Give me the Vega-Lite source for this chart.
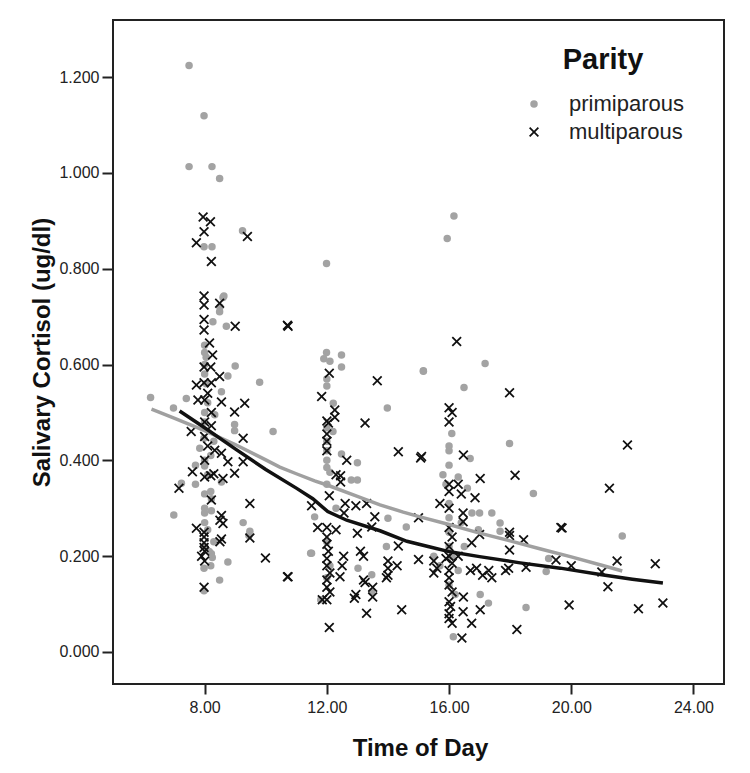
{
  "$schema": "https://vega.github.io/schema/vega-lite/v6.json",
  "autosize": "none",
  "width": 611,
  "height": 664,
  "padding": {"left": 113, "top": 20, "right": 26, "bottom": 89},
  "background": "white",
  "config": {
    "view": {"stroke": "#222222", "strokeWidth": 2},
    "font": "Liberation Sans",
    "axis": {
      "labelFont": "Liberation Sans",
      "labelFontSize": 16,
      "labelColor": "#222222",
      "titleFont": "Liberation Sans",
      "titleFontSize": 24,
      "titleFontWeight": "bold",
      "titleColor": "#111111",
      "tickColor": "#222222",
      "tickWidth": 2,
      "grid": false,
      "domain": false
    },
    "legend": {
      "orient": "none",
      "legendX": 410,
      "legendY": 26,
      "padding": 0,
      "titleFont": "Liberation Sans",
      "titleFontSize": 29,
      "titleFontWeight": "bold",
      "titleColor": "#111111",
      "titleAnchor": "middle",
      "titlePadding": 18,
      "labelFont": "Liberation Sans",
      "labelFontSize": 22,
      "labelColor": "#222222",
      "labelOffset": 24,
      "symbolSize": 64,
      "rowPadding": 6
    }
  },
  "datasets": {
    "points": [
      {"time": 7.49, "cortisol": 1.224, "parity": "primiparous"},
      {"time": 7.98, "cortisol": 1.119, "parity": "primiparous"},
      {"time": 7.49, "cortisol": 1.013, "parity": "primiparous"},
      {"time": 8.24, "cortisol": 1.013, "parity": "primiparous"},
      {"time": 8.49, "cortisol": 0.988, "parity": "primiparous"},
      {"time": 9.24, "cortisol": 0.879, "parity": "primiparous"},
      {"time": 7.98, "cortisol": 0.846, "parity": "primiparous"},
      {"time": 8.24, "cortisol": 0.846, "parity": "primiparous"},
      {"time": 8.63, "cortisol": 0.743, "parity": "primiparous"},
      {"time": 8.6, "cortisol": 0.74, "parity": "primiparous"},
      {"time": 8.5, "cortisol": 0.72, "parity": "primiparous"},
      {"time": 8.49, "cortisol": 0.71, "parity": "primiparous"},
      {"time": 8.27, "cortisol": 0.689, "parity": "primiparous"},
      {"time": 8.71, "cortisol": 0.68, "parity": "primiparous"},
      {"time": 8.0, "cortisol": 0.64, "parity": "primiparous"},
      {"time": 8.0, "cortisol": 0.625, "parity": "primiparous"},
      {"time": 8.05, "cortisol": 0.615, "parity": "primiparous"},
      {"time": 9.0, "cortisol": 0.597, "parity": "primiparous"},
      {"time": 8.0, "cortisol": 0.6, "parity": "primiparous"},
      {"time": 8.0, "cortisol": 0.58, "parity": "primiparous"},
      {"time": 8.76, "cortisol": 0.576, "parity": "primiparous"},
      {"time": 9.8, "cortisol": 0.563, "parity": "primiparous"},
      {"time": 8.05, "cortisol": 0.56, "parity": "primiparous"},
      {"time": 8.55, "cortisol": 0.543, "parity": "primiparous"},
      {"time": 6.23, "cortisol": 0.531, "parity": "primiparous"},
      {"time": 7.4, "cortisol": 0.529, "parity": "primiparous"},
      {"time": 8.1, "cortisol": 0.52, "parity": "primiparous"},
      {"time": 6.98, "cortisol": 0.509, "parity": "primiparous"},
      {"time": 8.0, "cortisol": 0.5, "parity": "primiparous"},
      {"time": 8.33, "cortisol": 0.495, "parity": "primiparous"},
      {"time": 8.0, "cortisol": 0.48, "parity": "primiparous"},
      {"time": 8.98, "cortisol": 0.475, "parity": "primiparous"},
      {"time": 8.98, "cortisol": 0.462, "parity": "primiparous"},
      {"time": 10.24, "cortisol": 0.46, "parity": "primiparous"},
      {"time": 7.98, "cortisol": 0.446, "parity": "primiparous"},
      {"time": 8.3, "cortisol": 0.44, "parity": "primiparous"},
      {"time": 7.84, "cortisol": 0.425, "parity": "primiparous"},
      {"time": 8.2, "cortisol": 0.41, "parity": "primiparous"},
      {"time": 8.0, "cortisol": 0.4, "parity": "primiparous"},
      {"time": 7.7, "cortisol": 0.39, "parity": "primiparous"},
      {"time": 8.0, "cortisol": 0.388, "parity": "primiparous"},
      {"time": 8.1, "cortisol": 0.37, "parity": "primiparous"},
      {"time": 8.55, "cortisol": 0.355, "parity": "primiparous"},
      {"time": 7.24, "cortisol": 0.352, "parity": "primiparous"},
      {"time": 7.7, "cortisol": 0.35, "parity": "primiparous"},
      {"time": 8.2, "cortisol": 0.335, "parity": "primiparous"},
      {"time": 8.0, "cortisol": 0.33, "parity": "primiparous"},
      {"time": 8.22, "cortisol": 0.32, "parity": "primiparous"},
      {"time": 8.0, "cortisol": 0.3, "parity": "primiparous"},
      {"time": 8.22, "cortisol": 0.295, "parity": "primiparous"},
      {"time": 8.0, "cortisol": 0.29, "parity": "primiparous"},
      {"time": 6.99, "cortisol": 0.286, "parity": "primiparous"},
      {"time": 8.0, "cortisol": 0.27, "parity": "primiparous"},
      {"time": 9.26, "cortisol": 0.27, "parity": "primiparous"},
      {"time": 8.1, "cortisol": 0.255, "parity": "primiparous"},
      {"time": 9.48, "cortisol": 0.252, "parity": "primiparous"},
      {"time": 9.45, "cortisol": 0.243, "parity": "primiparous"},
      {"time": 8.3, "cortisol": 0.23, "parity": "primiparous"},
      {"time": 8.0, "cortisol": 0.22, "parity": "primiparous"},
      {"time": 8.15, "cortisol": 0.21, "parity": "primiparous"},
      {"time": 11.47, "cortisol": 0.206, "parity": "primiparous"},
      {"time": 8.22, "cortisol": 0.205, "parity": "primiparous"},
      {"time": 8.25, "cortisol": 0.197, "parity": "primiparous"},
      {"time": 8.76, "cortisol": 0.188, "parity": "primiparous"},
      {"time": 8.2, "cortisol": 0.18, "parity": "primiparous"},
      {"time": 7.98, "cortisol": 0.175, "parity": "primiparous"},
      {"time": 8.49, "cortisol": 0.15, "parity": "primiparous"},
      {"time": 7.98, "cortisol": 0.128, "parity": "primiparous"},
      {"time": 11.99, "cortisol": 0.811, "parity": "primiparous"},
      {"time": 11.99, "cortisol": 0.625, "parity": "primiparous"},
      {"time": 12.48, "cortisol": 0.62, "parity": "primiparous"},
      {"time": 11.9, "cortisol": 0.612, "parity": "primiparous"},
      {"time": 12.1, "cortisol": 0.607, "parity": "primiparous"},
      {"time": 12.48, "cortisol": 0.595, "parity": "primiparous"},
      {"time": 15.16, "cortisol": 0.587, "parity": "primiparous"},
      {"time": 12.0, "cortisol": 0.57, "parity": "primiparous"},
      {"time": 12.0, "cortisol": 0.555, "parity": "primiparous"},
      {"time": 12.21, "cortisol": 0.519, "parity": "primiparous"},
      {"time": 13.98, "cortisol": 0.509, "parity": "primiparous"},
      {"time": 12.0, "cortisol": 0.468, "parity": "primiparous"},
      {"time": 12.2, "cortisol": 0.46, "parity": "primiparous"},
      {"time": 12.0, "cortisol": 0.44, "parity": "primiparous"},
      {"time": 12.0, "cortisol": 0.42, "parity": "primiparous"},
      {"time": 12.48, "cortisol": 0.413, "parity": "primiparous"},
      {"time": 12.0, "cortisol": 0.4, "parity": "primiparous"},
      {"time": 13.0, "cortisol": 0.395, "parity": "primiparous"},
      {"time": 12.0, "cortisol": 0.385, "parity": "primiparous"},
      {"time": 12.1, "cortisol": 0.375, "parity": "primiparous"},
      {"time": 12.8, "cortisol": 0.359, "parity": "primiparous"},
      {"time": 13.0, "cortisol": 0.359, "parity": "primiparous"},
      {"time": 12.0, "cortisol": 0.35, "parity": "primiparous"},
      {"time": 12.3, "cortisol": 0.3, "parity": "primiparous"},
      {"time": 11.6, "cortisol": 0.282, "parity": "primiparous"},
      {"time": 14.0, "cortisol": 0.279, "parity": "primiparous"},
      {"time": 14.6, "cortisol": 0.261, "parity": "primiparous"},
      {"time": 12.0, "cortisol": 0.23, "parity": "primiparous"},
      {"time": 13.95, "cortisol": 0.22, "parity": "primiparous"},
      {"time": 11.5, "cortisol": 0.206, "parity": "primiparous"},
      {"time": 12.1, "cortisol": 0.18, "parity": "primiparous"},
      {"time": 13.02, "cortisol": 0.175, "parity": "primiparous"},
      {"time": 13.47, "cortisol": 0.161, "parity": "primiparous"},
      {"time": 12.0, "cortisol": 0.155, "parity": "primiparous"},
      {"time": 13.47, "cortisol": 0.125, "parity": "primiparous"},
      {"time": 11.8, "cortisol": 0.109, "parity": "primiparous"},
      {"time": 16.16, "cortisol": 0.91, "parity": "primiparous"},
      {"time": 15.94, "cortisol": 0.863, "parity": "primiparous"},
      {"time": 15.16, "cortisol": 0.586, "parity": "primiparous"},
      {"time": 17.18, "cortisol": 0.602, "parity": "primiparous"},
      {"time": 16.49, "cortisol": 0.552, "parity": "primiparous"},
      {"time": 16.09, "cortisol": 0.456, "parity": "primiparous"},
      {"time": 17.98, "cortisol": 0.435, "parity": "primiparous"},
      {"time": 16.0, "cortisol": 0.43, "parity": "primiparous"},
      {"time": 16.0, "cortisol": 0.42, "parity": "primiparous"},
      {"time": 16.69, "cortisol": 0.404, "parity": "primiparous"},
      {"time": 16.0, "cortisol": 0.39, "parity": "primiparous"},
      {"time": 15.8, "cortisol": 0.37, "parity": "primiparous"},
      {"time": 16.3, "cortisol": 0.365, "parity": "primiparous"},
      {"time": 15.9, "cortisol": 0.35, "parity": "primiparous"},
      {"time": 16.6, "cortisol": 0.342, "parity": "primiparous"},
      {"time": 18.76, "cortisol": 0.331, "parity": "primiparous"},
      {"time": 16.0, "cortisol": 0.31, "parity": "primiparous"},
      {"time": 16.75, "cortisol": 0.29, "parity": "primiparous"},
      {"time": 17.0, "cortisol": 0.29, "parity": "primiparous"},
      {"time": 17.4, "cortisol": 0.29, "parity": "primiparous"},
      {"time": 16.0, "cortisol": 0.28, "parity": "primiparous"},
      {"time": 16.4, "cortisol": 0.27, "parity": "primiparous"},
      {"time": 17.67, "cortisol": 0.269, "parity": "primiparous"},
      {"time": 16.96, "cortisol": 0.255, "parity": "primiparous"},
      {"time": 17.67, "cortisol": 0.252, "parity": "primiparous"},
      {"time": 16.0, "cortisol": 0.25, "parity": "primiparous"},
      {"time": 21.67, "cortisol": 0.242, "parity": "primiparous"},
      {"time": 16.0, "cortisol": 0.22, "parity": "primiparous"},
      {"time": 16.5, "cortisol": 0.22, "parity": "primiparous"},
      {"time": 15.5, "cortisol": 0.2, "parity": "primiparous"},
      {"time": 16.1, "cortisol": 0.2, "parity": "primiparous"},
      {"time": 19.26, "cortisol": 0.195, "parity": "primiparous"},
      {"time": 15.7, "cortisol": 0.18, "parity": "primiparous"},
      {"time": 16.3, "cortisol": 0.17, "parity": "primiparous"},
      {"time": 19.18, "cortisol": 0.168, "parity": "primiparous"},
      {"time": 16.0, "cortisol": 0.14, "parity": "primiparous"},
      {"time": 16.2, "cortisol": 0.12, "parity": "primiparous"},
      {"time": 17.02, "cortisol": 0.12, "parity": "primiparous"},
      {"time": 17.29, "cortisol": 0.102, "parity": "primiparous"},
      {"time": 18.52, "cortisol": 0.093, "parity": "primiparous"},
      {"time": 16.14, "cortisol": 0.032, "parity": "primiparous"},
      {"time": 7.95, "cortisol": 0.908, "parity": "multiparous"},
      {"time": 8.19, "cortisol": 0.898, "parity": "multiparous"},
      {"time": 7.98, "cortisol": 0.877, "parity": "multiparous"},
      {"time": 9.4, "cortisol": 0.867, "parity": "multiparous"},
      {"time": 7.73, "cortisol": 0.854, "parity": "multiparous"},
      {"time": 8.22, "cortisol": 0.815, "parity": "multiparous"},
      {"time": 7.98, "cortisol": 0.743, "parity": "multiparous"},
      {"time": 8.49, "cortisol": 0.728, "parity": "multiparous"},
      {"time": 7.98, "cortisol": 0.724, "parity": "multiparous"},
      {"time": 7.98, "cortisol": 0.694, "parity": "multiparous"},
      {"time": 9.0, "cortisol": 0.68, "parity": "multiparous"},
      {"time": 10.71, "cortisol": 0.682, "parity": "multiparous"},
      {"time": 7.98, "cortisol": 0.672, "parity": "multiparous"},
      {"time": 8.16, "cortisol": 0.645, "parity": "multiparous"},
      {"time": 8.26, "cortisol": 0.62, "parity": "multiparous"},
      {"time": 7.98, "cortisol": 0.595, "parity": "multiparous"},
      {"time": 8.2, "cortisol": 0.595, "parity": "multiparous"},
      {"time": 8.49, "cortisol": 0.575, "parity": "multiparous"},
      {"time": 7.98, "cortisol": 0.562, "parity": "multiparous"},
      {"time": 8.22, "cortisol": 0.562, "parity": "multiparous"},
      {"time": 7.73, "cortisol": 0.557, "parity": "multiparous"},
      {"time": 8.1, "cortisol": 0.54, "parity": "multiparous"},
      {"time": 7.78, "cortisol": 0.526, "parity": "multiparous"},
      {"time": 8.0, "cortisol": 0.526, "parity": "multiparous"},
      {"time": 8.55, "cortisol": 0.522, "parity": "multiparous"},
      {"time": 9.31, "cortisol": 0.519, "parity": "multiparous"},
      {"time": 8.98, "cortisol": 0.501, "parity": "multiparous"},
      {"time": 8.22, "cortisol": 0.5, "parity": "multiparous"},
      {"time": 8.0, "cortisol": 0.48, "parity": "multiparous"},
      {"time": 8.22, "cortisol": 0.472, "parity": "multiparous"},
      {"time": 7.56, "cortisol": 0.46, "parity": "multiparous"},
      {"time": 8.0, "cortisol": 0.45, "parity": "multiparous"},
      {"time": 9.26, "cortisol": 0.446, "parity": "multiparous"},
      {"time": 8.1, "cortisol": 0.43, "parity": "multiparous"},
      {"time": 8.33, "cortisol": 0.421, "parity": "multiparous"},
      {"time": 8.55, "cortisol": 0.415, "parity": "multiparous"},
      {"time": 8.0, "cortisol": 0.4, "parity": "multiparous"},
      {"time": 8.76, "cortisol": 0.397, "parity": "multiparous"},
      {"time": 9.26, "cortisol": 0.397, "parity": "multiparous"},
      {"time": 7.6, "cortisol": 0.376, "parity": "multiparous"},
      {"time": 8.98, "cortisol": 0.373, "parity": "multiparous"},
      {"time": 8.3, "cortisol": 0.372, "parity": "multiparous"},
      {"time": 8.2, "cortisol": 0.368, "parity": "multiparous"},
      {"time": 8.0, "cortisol": 0.365, "parity": "multiparous"},
      {"time": 8.6, "cortisol": 0.362, "parity": "multiparous"},
      {"time": 7.16, "cortisol": 0.342, "parity": "multiparous"},
      {"time": 8.22, "cortisol": 0.317, "parity": "multiparous"},
      {"time": 9.48, "cortisol": 0.31, "parity": "multiparous"},
      {"time": 8.55, "cortisol": 0.285, "parity": "multiparous"},
      {"time": 8.5, "cortisol": 0.275, "parity": "multiparous"},
      {"time": 8.6, "cortisol": 0.268, "parity": "multiparous"},
      {"time": 7.73, "cortisol": 0.258, "parity": "multiparous"},
      {"time": 7.98, "cortisol": 0.25, "parity": "multiparous"},
      {"time": 7.98, "cortisol": 0.24, "parity": "multiparous"},
      {"time": 9.48, "cortisol": 0.238, "parity": "multiparous"},
      {"time": 8.55, "cortisol": 0.236, "parity": "multiparous"},
      {"time": 8.5, "cortisol": 0.23, "parity": "multiparous"},
      {"time": 7.98, "cortisol": 0.228, "parity": "multiparous"},
      {"time": 7.98, "cortisol": 0.218, "parity": "multiparous"},
      {"time": 8.0, "cortisol": 0.21, "parity": "multiparous"},
      {"time": 7.9, "cortisol": 0.2, "parity": "multiparous"},
      {"time": 9.99, "cortisol": 0.196, "parity": "multiparous"},
      {"time": 8.0, "cortisol": 0.19, "parity": "multiparous"},
      {"time": 10.71, "cortisol": 0.157, "parity": "multiparous"},
      {"time": 7.98, "cortisol": 0.135, "parity": "multiparous"},
      {"time": 10.73, "cortisol": 0.68, "parity": "multiparous"},
      {"time": 12.08, "cortisol": 0.582, "parity": "multiparous"},
      {"time": 13.65, "cortisol": 0.566, "parity": "multiparous"},
      {"time": 11.83, "cortisol": 0.533, "parity": "multiparous"},
      {"time": 12.26, "cortisol": 0.505, "parity": "multiparous"},
      {"time": 12.26, "cortisol": 0.49, "parity": "multiparous"},
      {"time": 12.0, "cortisol": 0.482, "parity": "multiparous"},
      {"time": 12.05, "cortisol": 0.478, "parity": "multiparous"},
      {"time": 13.25, "cortisol": 0.478, "parity": "multiparous"},
      {"time": 12.0, "cortisol": 0.455, "parity": "multiparous"},
      {"time": 12.0, "cortisol": 0.44, "parity": "multiparous"},
      {"time": 12.0, "cortisol": 0.42, "parity": "multiparous"},
      {"time": 14.34, "cortisol": 0.418, "parity": "multiparous"},
      {"time": 15.07, "cortisol": 0.405, "parity": "multiparous"},
      {"time": 12.65, "cortisol": 0.4, "parity": "multiparous"},
      {"time": 12.3, "cortisol": 0.37, "parity": "multiparous"},
      {"time": 12.45, "cortisol": 0.368, "parity": "multiparous"},
      {"time": 12.45, "cortisol": 0.355, "parity": "multiparous"},
      {"time": 12.08, "cortisol": 0.326, "parity": "multiparous"},
      {"time": 12.6, "cortisol": 0.31, "parity": "multiparous"},
      {"time": 13.3, "cortisol": 0.31, "parity": "multiparous"},
      {"time": 12.95, "cortisol": 0.305, "parity": "multiparous"},
      {"time": 11.5, "cortisol": 0.305, "parity": "multiparous"},
      {"time": 12.56, "cortisol": 0.29, "parity": "multiparous"},
      {"time": 13.57, "cortisol": 0.282, "parity": "multiparous"},
      {"time": 15.0, "cortisol": 0.28, "parity": "multiparous"},
      {"time": 11.7, "cortisol": 0.26, "parity": "multiparous"},
      {"time": 12.0, "cortisol": 0.26, "parity": "multiparous"},
      {"time": 13.47, "cortisol": 0.261, "parity": "multiparous"},
      {"time": 12.3, "cortisol": 0.255, "parity": "multiparous"},
      {"time": 13.0, "cortisol": 0.248, "parity": "multiparous"},
      {"time": 12.0, "cortisol": 0.24, "parity": "multiparous"},
      {"time": 12.0, "cortisol": 0.225, "parity": "multiparous"},
      {"time": 14.34, "cortisol": 0.221, "parity": "multiparous"},
      {"time": 12.05, "cortisol": 0.21, "parity": "multiparous"},
      {"time": 13.1, "cortisol": 0.21, "parity": "multiparous"},
      {"time": 13.2, "cortisol": 0.2, "parity": "multiparous"},
      {"time": 12.55, "cortisol": 0.2, "parity": "multiparous"},
      {"time": 12.0, "cortisol": 0.195, "parity": "multiparous"},
      {"time": 15.0, "cortisol": 0.193, "parity": "multiparous"},
      {"time": 14.0, "cortisol": 0.19, "parity": "multiparous"},
      {"time": 12.0, "cortisol": 0.18, "parity": "multiparous"},
      {"time": 12.5, "cortisol": 0.18, "parity": "multiparous"},
      {"time": 14.3, "cortisol": 0.18, "parity": "multiparous"},
      {"time": 14.0, "cortisol": 0.175, "parity": "multiparous"},
      {"time": 12.1, "cortisol": 0.165, "parity": "multiparous"},
      {"time": 14.0, "cortisol": 0.16, "parity": "multiparous"},
      {"time": 10.73, "cortisol": 0.157, "parity": "multiparous"},
      {"time": 12.43, "cortisol": 0.157, "parity": "multiparous"},
      {"time": 13.95, "cortisol": 0.155, "parity": "multiparous"},
      {"time": 12.0, "cortisol": 0.15, "parity": "multiparous"},
      {"time": 13.2, "cortisol": 0.15, "parity": "multiparous"},
      {"time": 13.25, "cortisol": 0.145, "parity": "multiparous"},
      {"time": 12.0, "cortisol": 0.135, "parity": "multiparous"},
      {"time": 13.5, "cortisol": 0.135, "parity": "multiparous"},
      {"time": 12.1, "cortisol": 0.125, "parity": "multiparous"},
      {"time": 12.95, "cortisol": 0.12, "parity": "multiparous"},
      {"time": 13.5, "cortisol": 0.115, "parity": "multiparous"},
      {"time": 12.9, "cortisol": 0.112, "parity": "multiparous"},
      {"time": 11.85, "cortisol": 0.109, "parity": "multiparous"},
      {"time": 12.0, "cortisol": 0.109, "parity": "multiparous"},
      {"time": 14.45, "cortisol": 0.088, "parity": "multiparous"},
      {"time": 13.3, "cortisol": 0.081, "parity": "multiparous"},
      {"time": 12.08, "cortisol": 0.051, "parity": "multiparous"},
      {"time": 16.25, "cortisol": 0.648, "parity": "multiparous"},
      {"time": 17.98, "cortisol": 0.541, "parity": "multiparous"},
      {"time": 16.0, "cortisol": 0.51, "parity": "multiparous"},
      {"time": 16.1, "cortisol": 0.5, "parity": "multiparous"},
      {"time": 16.0, "cortisol": 0.48, "parity": "multiparous"},
      {"time": 16.47, "cortisol": 0.411, "parity": "multiparous"},
      {"time": 15.1, "cortisol": 0.408, "parity": "multiparous"},
      {"time": 18.16, "cortisol": 0.369, "parity": "multiparous"},
      {"time": 17.02, "cortisol": 0.362, "parity": "multiparous"},
      {"time": 16.0, "cortisol": 0.35, "parity": "multiparous"},
      {"time": 16.3, "cortisol": 0.35, "parity": "multiparous"},
      {"time": 16.0, "cortisol": 0.335, "parity": "multiparous"},
      {"time": 16.4, "cortisol": 0.33, "parity": "multiparous"},
      {"time": 16.85, "cortisol": 0.322, "parity": "multiparous"},
      {"time": 15.7, "cortisol": 0.31, "parity": "multiparous"},
      {"time": 16.0, "cortisol": 0.3, "parity": "multiparous"},
      {"time": 16.46, "cortisol": 0.29, "parity": "multiparous"},
      {"time": 16.46, "cortisol": 0.272, "parity": "multiparous"},
      {"time": 16.0, "cortisol": 0.26, "parity": "multiparous"},
      {"time": 19.66, "cortisol": 0.26, "parity": "multiparous"},
      {"time": 17.98, "cortisol": 0.25, "parity": "multiparous"},
      {"time": 17.0, "cortisol": 0.245, "parity": "multiparous"},
      {"time": 17.98, "cortisol": 0.243, "parity": "multiparous"},
      {"time": 16.1, "cortisol": 0.24, "parity": "multiparous"},
      {"time": 18.44, "cortisol": 0.234, "parity": "multiparous"},
      {"time": 16.74, "cortisol": 0.228, "parity": "multiparous"},
      {"time": 16.0, "cortisol": 0.22, "parity": "multiparous"},
      {"time": 17.98, "cortisol": 0.213, "parity": "multiparous"},
      {"time": 16.0, "cortisol": 0.2, "parity": "multiparous"},
      {"time": 16.3, "cortisol": 0.2, "parity": "multiparous"},
      {"time": 15.9, "cortisol": 0.195, "parity": "multiparous"},
      {"time": 19.5, "cortisol": 0.192, "parity": "multiparous"},
      {"time": 15.5, "cortisol": 0.19, "parity": "multiparous"},
      {"time": 16.1, "cortisol": 0.185, "parity": "multiparous"},
      {"time": 18.52, "cortisol": 0.177, "parity": "multiparous"},
      {"time": 15.6, "cortisol": 0.175, "parity": "multiparous"},
      {"time": 16.9, "cortisol": 0.175, "parity": "multiparous"},
      {"time": 17.95, "cortisol": 0.175, "parity": "multiparous"},
      {"time": 16.0, "cortisol": 0.17, "parity": "multiparous"},
      {"time": 16.7, "cortisol": 0.17, "parity": "multiparous"},
      {"time": 17.3, "cortisol": 0.17, "parity": "multiparous"},
      {"time": 17.85, "cortisol": 0.17, "parity": "multiparous"},
      {"time": 15.5, "cortisol": 0.165, "parity": "multiparous"},
      {"time": 17.1, "cortisol": 0.16, "parity": "multiparous"},
      {"time": 16.0, "cortisol": 0.155, "parity": "multiparous"},
      {"time": 17.4, "cortisol": 0.155, "parity": "multiparous"},
      {"time": 16.0, "cortisol": 0.14, "parity": "multiparous"},
      {"time": 16.1, "cortisol": 0.125, "parity": "multiparous"},
      {"time": 16.47, "cortisol": 0.115, "parity": "multiparous"},
      {"time": 16.0, "cortisol": 0.105, "parity": "multiparous"},
      {"time": 16.05, "cortisol": 0.095, "parity": "multiparous"},
      {"time": 17.02, "cortisol": 0.088, "parity": "multiparous"},
      {"time": 16.46, "cortisol": 0.084, "parity": "multiparous"},
      {"time": 16.0, "cortisol": 0.08, "parity": "multiparous"},
      {"time": 16.0, "cortisol": 0.07, "parity": "multiparous"},
      {"time": 16.1, "cortisol": 0.06, "parity": "multiparous"},
      {"time": 16.74, "cortisol": 0.06, "parity": "multiparous"},
      {"time": 18.22, "cortisol": 0.047, "parity": "multiparous"},
      {"time": 16.42, "cortisol": 0.029, "parity": "multiparous"},
      {"time": 19.93, "cortisol": 0.098, "parity": "multiparous"},
      {"time": 19.7, "cortisol": 0.259, "parity": "multiparous"},
      {"time": 21.84, "cortisol": 0.432, "parity": "multiparous"},
      {"time": 21.25, "cortisol": 0.342, "parity": "multiparous"},
      {"time": 21.5, "cortisol": 0.19, "parity": "multiparous"},
      {"time": 22.75, "cortisol": 0.184, "parity": "multiparous"},
      {"time": 20.0, "cortisol": 0.18, "parity": "multiparous"},
      {"time": 21.0, "cortisol": 0.167, "parity": "multiparous"},
      {"time": 21.2, "cortisol": 0.136, "parity": "multiparous"},
      {"time": 22.2, "cortisol": 0.09, "parity": "multiparous"},
      {"time": 23.0, "cortisol": 0.102, "parity": "multiparous"}
    ],
    "fits": [
      {"time": 6.26, "cortisol": 0.507, "parity": "primiparous"},
      {"time": 7.0, "cortisol": 0.488, "parity": "primiparous"},
      {"time": 8.0, "cortisol": 0.462, "parity": "primiparous"},
      {"time": 9.0, "cortisol": 0.433, "parity": "primiparous"},
      {"time": 10.0, "cortisol": 0.401, "parity": "primiparous"},
      {"time": 10.46, "cortisol": 0.386, "parity": "primiparous"},
      {"time": 11.0, "cortisol": 0.372, "parity": "primiparous"},
      {"time": 11.6, "cortisol": 0.357, "parity": "primiparous"},
      {"time": 12.03, "cortisol": 0.348, "parity": "primiparous"},
      {"time": 13.0, "cortisol": 0.325, "parity": "primiparous"},
      {"time": 13.74, "cortisol": 0.307, "parity": "primiparous"},
      {"time": 14.5, "cortisol": 0.292, "parity": "primiparous"},
      {"time": 15.05, "cortisol": 0.282, "parity": "primiparous"},
      {"time": 16.0, "cortisol": 0.266, "parity": "primiparous"},
      {"time": 17.0, "cortisol": 0.248, "parity": "primiparous"},
      {"time": 18.0, "cortisol": 0.232, "parity": "primiparous"},
      {"time": 19.0, "cortisol": 0.215, "parity": "primiparous"},
      {"time": 19.97, "cortisol": 0.199, "parity": "primiparous"},
      {"time": 21.0, "cortisol": 0.181, "parity": "primiparous"},
      {"time": 21.67, "cortisol": 0.169, "parity": "primiparous"},
      {"time": 7.18, "cortisol": 0.503, "parity": "multiparous"},
      {"time": 8.0, "cortisol": 0.468, "parity": "multiparous"},
      {"time": 9.0, "cortisol": 0.424, "parity": "multiparous"},
      {"time": 10.0, "cortisol": 0.381, "parity": "multiparous"},
      {"time": 11.0, "cortisol": 0.342, "parity": "multiparous"},
      {"time": 11.54, "cortisol": 0.32, "parity": "multiparous"},
      {"time": 12.03, "cortisol": 0.293, "parity": "multiparous"},
      {"time": 12.65, "cortisol": 0.275, "parity": "multiparous"},
      {"time": 13.74, "cortisol": 0.253, "parity": "multiparous"},
      {"time": 14.62, "cortisol": 0.231, "parity": "multiparous"},
      {"time": 15.38, "cortisol": 0.219, "parity": "multiparous"},
      {"time": 16.03, "cortisol": 0.209, "parity": "multiparous"},
      {"time": 17.0, "cortisol": 0.199, "parity": "multiparous"},
      {"time": 18.33, "cortisol": 0.186, "parity": "multiparous"},
      {"time": 19.64, "cortisol": 0.175, "parity": "multiparous"},
      {"time": 21.0, "cortisol": 0.161, "parity": "multiparous"},
      {"time": 22.0, "cortisol": 0.152, "parity": "multiparous"},
      {"time": 23.0, "cortisol": 0.144, "parity": "multiparous"}
    ]
  },
  "layer": [
    {
      "data": {"name": "points"},
      "mark": {"type": "point", "filled": true, "opacity": 1, "size": 64},
      "encoding": {
        "x": {
          "field": "time", "type": "quantitative",
          "scale": {"domain": [5, 25], "nice": false, "zero": false},
          "axis": {
            "title": "Time of Day",
            "values": [8, 12, 16, 20, 24],
            "format": ".2f",
            "tickSize": 10,
            "labelPadding": 5,
            "titleBaseline": "alphabetic",
            "titleY": 71,
            "titleX": 307
          }
        },
        "y": {
          "field": "cortisol", "type": "quantitative",
          "scale": {"domain": [-0.0668, 1.319], "nice": false, "zero": false},
          "axis": {
            "title": "Salivary Cortisol (ug/dl)",
            "values": [0, 0.2, 0.4, 0.6, 0.8, 1.0, 1.2],
            "format": ".3f",
            "tickSize": 11,
            "labelPadding": 3,
            "titleBaseline": "alphabetic",
            "titleAngle": -90,
            "titleAlign": "center",
            "titleX": -64,
            "titleY": 332
          }
        },
        "color": {
          "field": "parity", "type": "nominal",
          "scale": {"domain": ["primiparous", "multiparous"], "range": ["#a3a3a3", "#111111"]},
          "legend": {"title": "Parity"}
        },
        "shape": {
          "field": "parity", "type": "nominal",
          "scale": {
            "domain": ["primiparous", "multiparous"],
            "range": ["circle", "M-1,-0.75L-0.75,-1L0,-0.25L0.75,-1L1,-0.75L0.25,0L1,0.75L0.75,1L0,0.25L-0.75,1L-1,0.75L-0.25,0Z"]
          },
          "legend": {"title": "Parity"}
        },
        "size": {
          "field": "parity", "type": "nominal",
          "scale": {"domain": ["primiparous", "multiparous"], "range": [56, 100]},
          "legend": null
        }
      }
    },
    {
      "data": {"name": "fits"},
      "transform": [{"filter": "datum.parity == 'primiparous'"}],
      "mark": {"type": "line", "color": "#a0a0a0", "strokeWidth": 3.5},
      "encoding": {
        "x": {"field": "time", "type": "quantitative"},
        "y": {"field": "cortisol", "type": "quantitative"}
      }
    },
    {
      "data": {"name": "fits"},
      "transform": [{"filter": "datum.parity == 'multiparous'"}],
      "mark": {"type": "line", "color": "#111111", "strokeWidth": 3.5},
      "encoding": {
        "x": {"field": "time", "type": "quantitative"},
        "y": {"field": "cortisol", "type": "quantitative"}
      }
    }
  ]
}
